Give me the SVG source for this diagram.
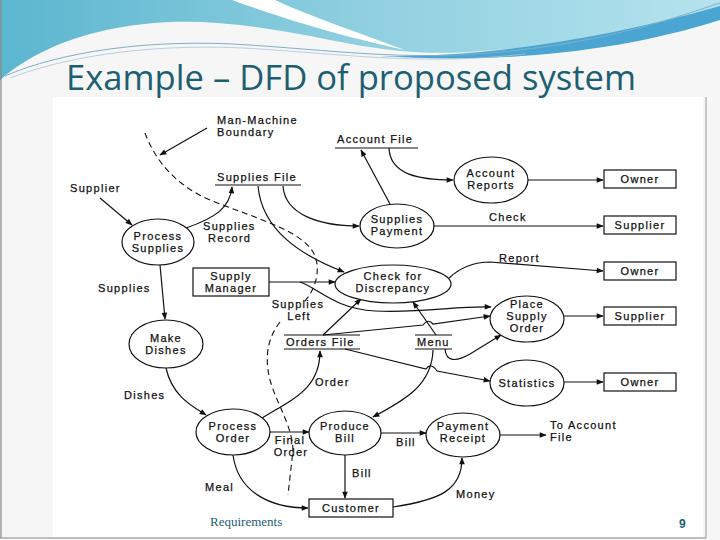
<svg xmlns="http://www.w3.org/2000/svg" width="720" height="540" viewBox="0 0 720 540">
<defs>
<linearGradient id="hdr" x1="0" y1="0" x2="1" y2="0">
<stop offset="0" stop-color="#5bb6cf"/>
<stop offset="0.5" stop-color="#8fcfe0"/>
<stop offset="1" stop-color="#b5e3ee"/>
</linearGradient>
<marker id="ah" viewBox="0 0 10 10" refX="9" refY="5" markerWidth="9" markerHeight="7" markerUnits="userSpaceOnUse" orient="auto">
<path d="M0,1 L10,5 L0,9 Z" fill="#111"/>
</marker>
<style>
.t{font-family:"Liberation Sans",Arial,sans-serif;font-size:11px;letter-spacing:1.3px;fill:#111;stroke:#111;stroke-width:0.25}
.c{text-anchor:middle}
.n{fill:#fff;stroke:#111;stroke-width:1.2}
.ds{stroke:#111;stroke-width:1.2;fill:none}
.fa{fill:none;stroke:#111;stroke-width:1.2;marker-end:url(#ah)}
.b{fill:none;stroke:#111;stroke-width:1.1;stroke-dasharray:6 4}
</style>
</defs>
<rect x="0" y="0" width="720" height="540" fill="#f6f6f6"/>
<rect x="53" y="97" width="650" height="440" fill="#fff"/>
<g id="banner">
<path d="M0,0 H720 V10 C650,32 560,46 470,52 C420,55 380,50 330,40 C270,28 220,20 170,22 C100,25 40,45 0,80 Z" fill="url(#hdr)"/>
<path d="M232,0 C270,14 330,34 405,50 C345,28 300,12 275,0 Z" fill="#fff"/>
<path d="M380,56 C480,58 600,40 720,6 V20 C620,52 500,64 380,56 Z" fill="#4aa5d2"/>
<path d="M5,76 C60,52 150,38 250,45 S420,62 520,50 S680,16 720,3" fill="none" stroke="#7fb0c8" stroke-width="1"/>
<path d="M10,78 C70,55 160,42 260,49 S430,65 525,54" fill="none" stroke="#a9c7d6" stroke-width="0.8"/>
</g>
<text x="66" y="90" font-family="'Open Sans','Liberation Sans',sans-serif" font-size="34" fill="#1d5f72" textLength="570" lengthAdjust="spacingAndGlyphs">Example – DFD of proposed system</text>
<line x1="1" y1="0" x2="1" y2="538" stroke="#888" stroke-width="1.2"/>
<line x1="0" y1="538" x2="706" y2="538" stroke="#888" stroke-width="1.2"/>
<line x1="706" y1="97" x2="706" y2="538" stroke="#999" stroke-width="1"/>

<g id="connectors">
<path class="b" d="M145,133 C155,160 175,185 210,200 C255,218 300,230 313,252 C322,268 316,290 303,303"/>
<path class="b" d="M280,322 C266,340 265,360 270,380 C277,405 292,425 293,450 L288,495"/>
<path class="fa" d="M207,128 L160,155"/>
<path class="fa" d="M100,198 L132,225"/>
<path class="fa" d="M186,228 C215,218 230,208 232,187"/>
<path class="fa" d="M160,265 L165,319"/>
<path class="fa" d="M166,368 C172,395 190,405 206,415"/>
<path class="fa" d="M262,418 C295,398 320,388 320,351"/>
<path class="fa" d="M270,432 L309,432"/>
<path class="fa" d="M233,455 C238,492 270,508 308,508"/>
<path class="fa" d="M345,455 L345,498"/>
<path class="fa" d="M381,433 L426,433"/>
<path class="fa" d="M393,507 C440,500 462,490 462,458"/>
<path class="fa" d="M500,435 L546,435"/>
<path class="fa" d="M433,350 C432,385 405,400 373,417"/>
<path class="fa" d="M436,335 L413,302"/>
<path class="fa" d="M323,335 L361,299"/>
<path class="fa" d="M323,335 L423,325 Q428,318 433,324 L490,316"/>
<path class="fa" d="M345,349 L426,369 Q431,362 437,371 L490,381"/>
<path class="fa" d="M445,349 C446,362 456,362 470,354 L501,335"/>
<path class="fa" d="M269,282 L335,282"/>
<path class="fa" d="M300,282 C318,288 335,309 375,311 C425,313 455,306 491,307"/>
<path class="fa" d="M258,186 C262,230 300,255 344,272"/>
<path class="fa" d="M283,186 C285,215 320,226 359,226"/>
<path class="fa" d="M390,204 L361,150"/>
<path class="fa" d="M389,148 C390,175 420,180 453,180"/>
<path class="fa" d="M528,180 L603,180"/>
<path class="fa" d="M434,226 L603,226"/>
<path class="fa" d="M449,278 C462,266 478,262 490,262 L603,271"/>
<path class="fa" d="M564,316 L603,316"/>
<path class="fa" d="M564,382 L603,382"/>
</g>

<g id="labels">
<text class="t" x="217" y="124">Man-Machine</text>
<text class="t" x="217" y="136">Boundary</text>
<text class="t" x="70" y="192">Supplier</text>
<text class="t" x="203" y="230">Supplies</text>
<text class="t" x="208" y="242">Record</text>
<text class="t" x="98" y="292">Supplies</text>
<text class="t c" x="298" y="308">Supplies</text>
<text class="t c" x="299" y="320">Left</text>
<text class="t" x="124" y="399">Dishes</text>
<text class="t" x="315" y="386">Order</text>
<text class="t c" x="290" y="444">Final</text>
<text class="t c" x="291" y="456">Order</text>
<text class="t" x="205" y="491">Meal</text>
<text class="t" x="352" y="477">Bill</text>
<text class="t" x="396" y="446">Bill</text>
<text class="t" x="456" y="498">Money</text>
<text class="t" x="550" y="429">To Account</text>
<text class="t" x="550" y="441">File</text>
<text class="t" x="489" y="221">Check</text>
<text class="t" x="499" y="262">Report</text>
</g>

<g id="store-supplies-file">
<text class="t" x="217" y="181">Supplies File</text>
<line class="ds" x1="215" y1="185" x2="301" y2="185"/>
</g>
<g id="store-account-file">
<text class="t" x="337" y="143">Account File</text>
<line class="ds" x1="335" y1="148" x2="418" y2="148"/>
</g>
<g id="store-orders-file">
<line class="ds" x1="284" y1="335" x2="360" y2="335"/>
<text class="t" x="286" y="346">Orders File</text>
<line class="ds" x1="284" y1="349" x2="360" y2="349"/>
</g>
<g id="store-menu">
<line class="ds" x1="415" y1="335" x2="452" y2="335"/>
<text class="t" x="417" y="346">Menu</text>
<line class="ds" x1="415" y1="349" x2="452" y2="349"/>
</g>

<g id="process-supplies">
<ellipse class="n" cx="158" cy="242" rx="36" ry="23"/>
<text class="t c" x="158" y="240">Process</text>
<text class="t c" x="158" y="252">Supplies</text>
</g>
<g id="make-dishes">
<ellipse class="n" cx="166" cy="344" rx="37" ry="24"/>
<text class="t c" x="166" y="342">Make</text>
<text class="t c" x="166" y="354">Dishes</text>
</g>
<g id="process-order">
<ellipse class="n" cx="233" cy="432" rx="37" ry="23"/>
<text class="t c" x="233" y="430">Process</text>
<text class="t c" x="233" y="442">Order</text>
</g>
<g id="produce-bill">
<ellipse class="n" cx="345" cy="433" rx="36" ry="22"/>
<text class="t c" x="345" y="430">Produce</text>
<text class="t c" x="345" y="442">Bill</text>
</g>
<g id="payment-receipt">
<ellipse class="n" cx="463" cy="435" rx="37" ry="22"/>
<text class="t c" x="463" y="430">Payment</text>
<text class="t c" x="463" y="442">Receipt</text>
</g>
<g id="statistics">
<ellipse class="n" cx="527" cy="383" rx="37" ry="23"/>
<text class="t c" x="527" y="387">Statistics</text>
</g>
<g id="place-supply-order">
<ellipse class="n" cx="527" cy="319" rx="37" ry="23"/>
<text class="t c" x="527" y="308">Place</text>
<text class="t c" x="527" y="320">Supply</text>
<text class="t c" x="527" y="332">Order</text>
</g>
<g id="check-discrepancy">
<ellipse class="n" cx="393" cy="284" rx="58" ry="19"/>
<text class="t c" x="393" y="280">Check for</text>
<text class="t c" x="393" y="292">Discrepancy</text>
</g>
<g id="supplies-payment">
<ellipse class="n" cx="397" cy="226" rx="37" ry="22"/>
<text class="t c" x="397" y="223">Supplies</text>
<text class="t c" x="397" y="235">Payment</text>
</g>
<g id="account-reports">
<ellipse class="n" cx="491" cy="180" rx="37" ry="23"/>
<text class="t c" x="491" y="177">Account</text>
<text class="t c" x="491" y="189">Reports</text>
</g>

<g id="supply-manager">
<rect class="n" x="193" y="268" width="76" height="28"/>
<text class="t c" x="231" y="280">Supply</text>
<text class="t c" x="231" y="292">Manager</text>
</g>
<g id="customer">
<rect class="n" x="309" y="499" width="84" height="18"/>
<text class="t c" x="351" y="512">Customer</text>
</g>
<g id="owner-1">
<rect class="n" x="604" y="170" width="72" height="18"/>
<text class="t c" x="640" y="183">Owner</text>
</g>
<g id="supplier-1">
<rect class="n" x="604" y="216" width="72" height="18"/>
<text class="t c" x="640" y="229">Supplier</text>
</g>
<g id="owner-2">
<rect class="n" x="604" y="262" width="72" height="18"/>
<text class="t c" x="640" y="275">Owner</text>
</g>
<g id="supplier-2">
<rect class="n" x="604" y="307" width="72" height="18"/>
<text class="t c" x="640" y="320">Supplier</text>
</g>
<g id="owner-3">
<rect class="n" x="604" y="373" width="72" height="18"/>
<text class="t c" x="640" y="386">Owner</text>
</g>

<text x="210" y="526" font-family="'Liberation Serif','Times New Roman',serif" font-size="13" fill="#1d5f72">Requirements</text>
<text x="679" y="528" font-family="'Liberation Sans',Arial,sans-serif" font-size="12" font-weight="bold" fill="#1d5f72">9</text>
</svg>
